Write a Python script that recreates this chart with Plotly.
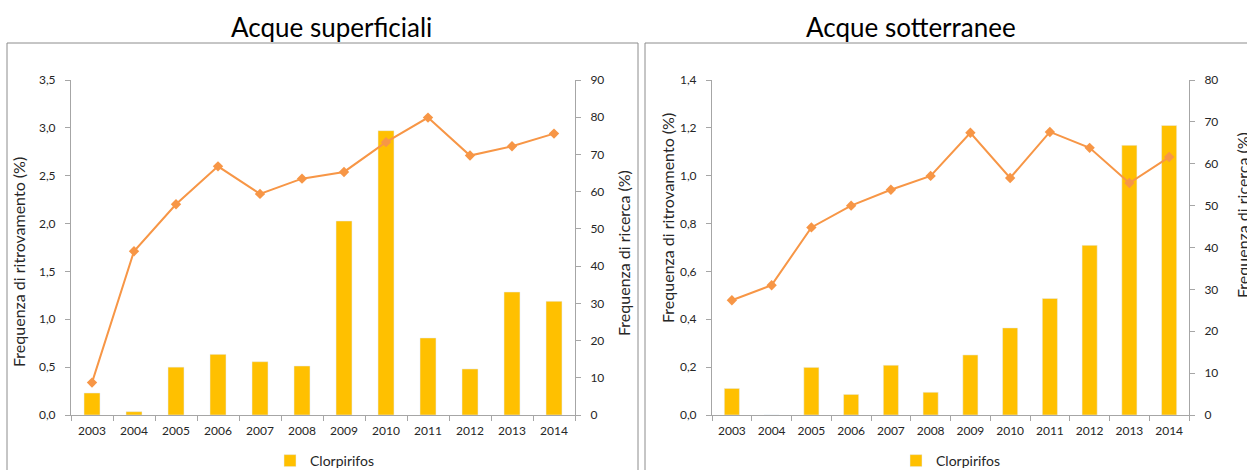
import plotly.graph_objects as go

years = ["2003", "2004", "2005", "2006", "2007", "2008", "2009", "2010", "2011", "2012", "2013", "2014"]

# Acque superficiali
sup_ritrovamento = [0.23, 0.035, 0.50, 0.634, 0.557, 0.512, 2.027, 2.971, 0.805, 0.481, 1.285, 1.188]
sup_ricerca = [8.7, 44.0, 56.6, 66.8, 59.4, 63.5, 65.3, 73.3, 79.9, 69.7, 72.2, 75.6]

# Acque sotterranee
sot_ritrovamento = [0.111, 0.0, 0.199, 0.086, 0.208, 0.095, 0.251, 0.364, 0.487, 0.709, 1.127, 1.210]
sot_ricerca = [27.4, 31.0, 44.8, 50.0, 53.8, 57.1, 67.4, 56.6, 67.6, 63.8, 55.4, 61.6]

series_name = "Clorpirifos"
titles = ["Acque superficiali", "Acque sotterranee"]
ytitle_left = "Frequenza di ritrovamento (%)"
ytitle_right = "Frequenza di ricerca (%)"

W, H = 1247, 470
BAR = "#FFC000"
LINE = "#F79646"
AXC = "#A6A6A6"
FONT = "Lato"
TXT = "#262626"

def px(x):
    return x / W

def py(y):
    return 1 - y / H

fig = go.Figure()

fig.add_trace(go.Bar(x=years, y=sup_ritrovamento, name=series_name, marker_color=BAR,
                     xaxis="x", yaxis="y", legend="legend"))
fig.add_trace(go.Scatter(x=years, y=sup_ricerca, mode="lines+markers", showlegend=False,
                         line=dict(color=LINE, width=2), marker=dict(symbol="diamond", size=8, color=LINE),
                         xaxis="x", yaxis="y2"))
fig.add_trace(go.Bar(x=years, y=sot_ritrovamento, name=series_name, marker_color=BAR,
                     xaxis="x2", yaxis="y3", legend="legend2"))
fig.add_trace(go.Scatter(x=years, y=sot_ricerca, mode="lines+markers", showlegend=False,
                         line=dict(color=LINE, width=2), marker=dict(symbol="diamond", size=8, color=LINE),
                         xaxis="x2", yaxis="y4"))

tickfont = dict(family=FONT, size=12, color=TXT)
common_x = dict(type="category", range=[-0.5, len(years) - 0.5], showline=True, linecolor=AXC, linewidth=1,
                ticks="outside", tickson="boundaries", ticklen=5, tickcolor=AXC, tickfont=tickfont,
                showgrid=False, zeroline=False, ticklabelstandoff=5)
common_y = dict(showline=True, linecolor=AXC, linewidth=1, ticks="outside", ticklen=5, tickcolor=AXC,
                tickfont=tickfont, showgrid=False, zeroline=False, ticklabelstandoff=7)

yd = [py(415), py(80)]

fig.update_layout(
    width=W, height=H, margin=dict(l=0, r=0, t=0, b=0, autoexpand=False),
    paper_bgcolor="white", plot_bgcolor="white",
    separators=",.",
    bargap=0.62,
    font=dict(family=FONT, color=TXT),
    xaxis=dict(domain=[px(71), px(575)], anchor="y", **common_x),
    yaxis=dict(domain=yd, anchor="x", range=[0, 3.5], dtick=0.5, tickformat=".1f", side="left", **common_y),
    yaxis2=dict(overlaying="y", anchor="x", side="right", range=[0, 90], dtick=10, **common_y),
    xaxis2=dict(domain=[px(712), px(1189)], anchor="y3", **common_x),
    yaxis3=dict(domain=yd, anchor="x2", range=[0, 1.4], dtick=0.2, tickformat=".1f", side="left", **common_y),
    yaxis4=dict(overlaying="y3", anchor="x2", side="right", range=[0, 80], dtick=10, **common_y),
    legend=dict(x=px(325), y=py(461), xanchor="center", yanchor="middle", orientation="h",
                font=dict(family=FONT, size=14, color=TXT), bgcolor="rgba(0,0,0,0)"),
    legend2=dict(x=px(951), y=py(461), xanchor="center", yanchor="middle", orientation="h",
                 font=dict(family=FONT, size=14, color=TXT), bgcolor="rgba(0,0,0,0)"),
)

# chart frames
fig.add_shape(type="rect", xref="paper", yref="paper", x0=px(7), x1=px(638), y0=py(490), y1=py(43),
              line=dict(color="#8C8C8C", width=1), layer="below")
fig.add_shape(type="rect", xref="paper", yref="paper", x0=px(645), x1=px(1270), y0=py(490), y1=py(43),
              line=dict(color="#8C8C8C", width=1), layer="below")

# titles
for t, cx in zip(titles, [331, 911]):
    fig.add_annotation(text=t, x=px(cx), y=py(27), xref="paper", yref="paper", showarrow=False,
                       xanchor="center", yanchor="middle", font=dict(family=FONT, size=26, color="#000000"))

# axis titles
axis_titles = [
    (ytitle_left, 18, 262),
    (ytitle_right, 623, 253),
    (ytitle_left, 667, 218),
    (ytitle_right, 1243, 215),
]
for t, cx, cy in axis_titles:
    fig.add_annotation(text=t, x=px(cx), y=py(cy), xref="paper", yref="paper", showarrow=False,
                       textangle=-90, xanchor="center", yanchor="middle",
                       font=dict(family=FONT, size=16, color=TXT))

fig.write_html("out.html", config={"displayModeBar": False},
               post_script="document.body.style.margin='0px';")
